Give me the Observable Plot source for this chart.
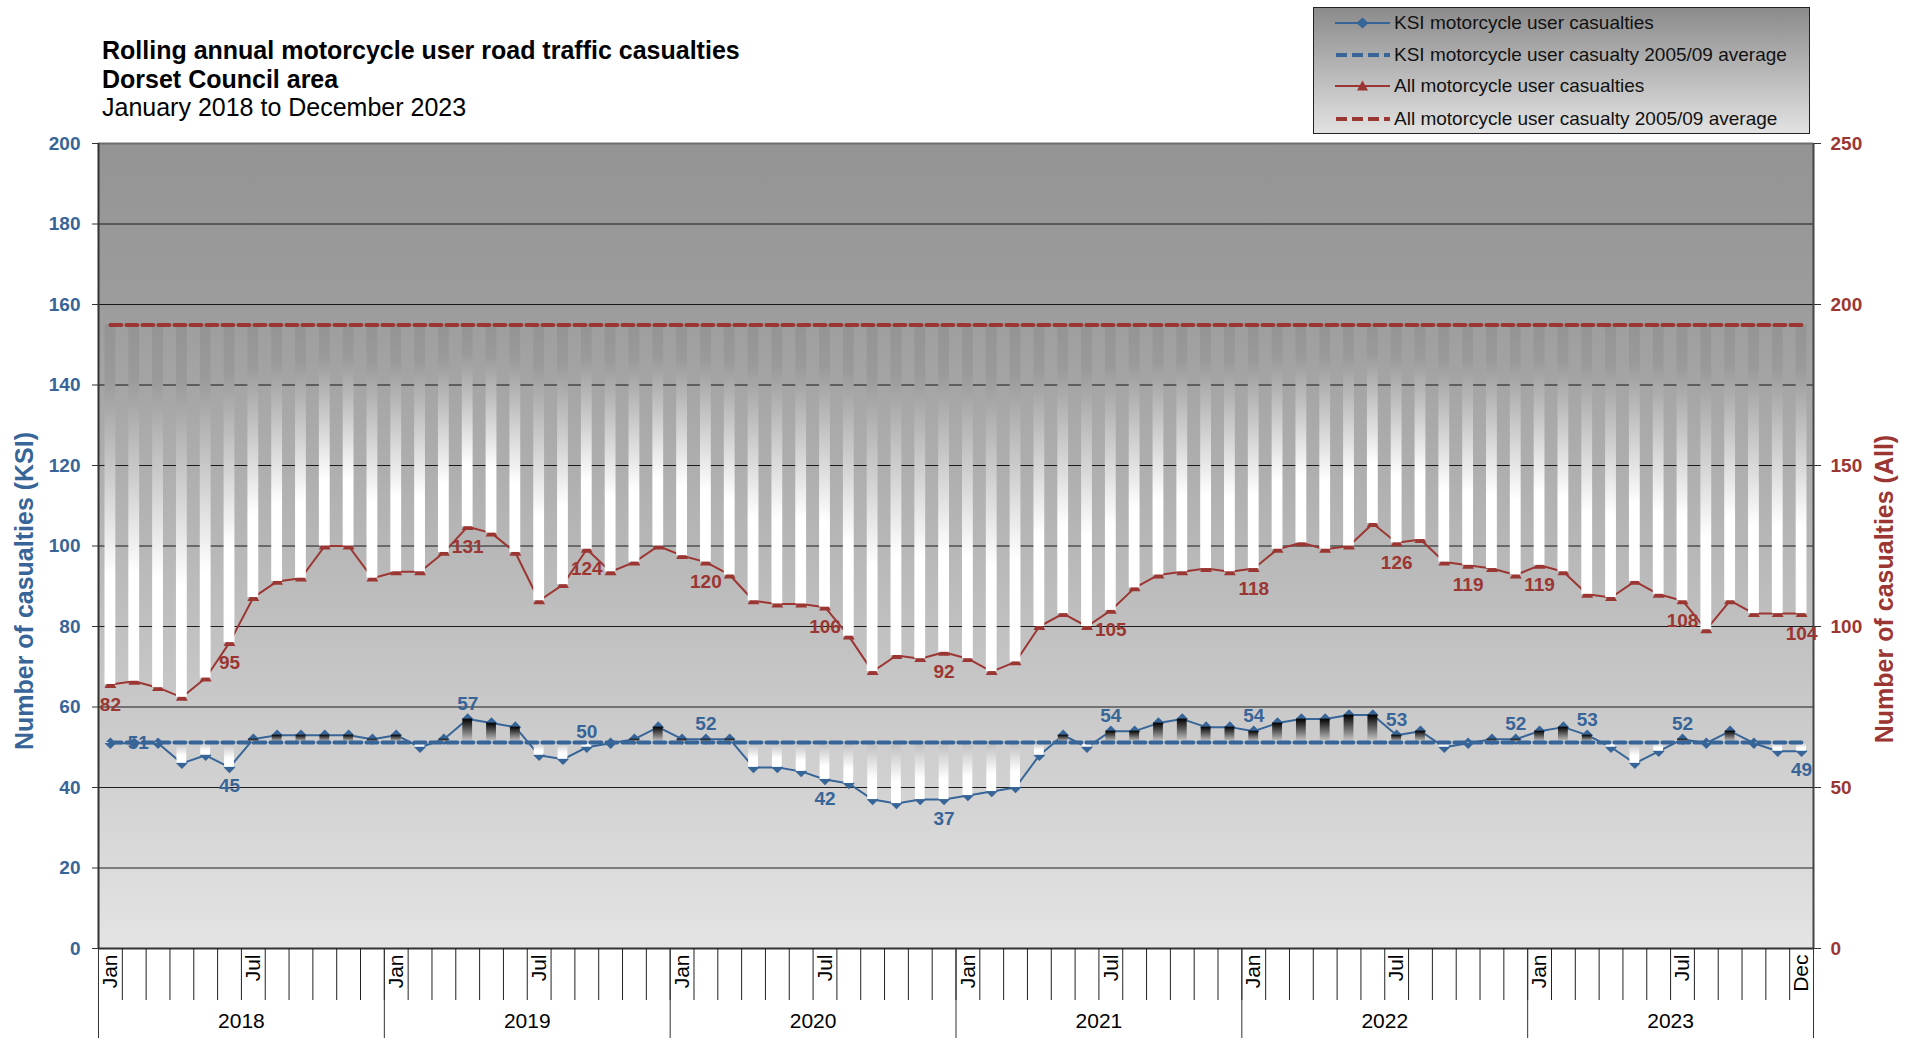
<!DOCTYPE html>
<html><head><meta charset="utf-8">
<script src="https://cdn.jsdelivr.net/npm/d3@7"></script>
<script src="https://cdn.jsdelivr.net/npm/@observablehq/plot@0.6"></script>
<style>
body{margin:0;background:#fff;font-family:"Liberation Sans",Arial,sans-serif;}
#wrap{position:relative;width:1912px;height:1038px;overflow:hidden;}
#chart{position:absolute;left:0;top:0;}
#title{position:absolute;left:102px;top:36px;font-size:25px;line-height:28.7px;color:#000;white-space:nowrap;}
#title .b{font-weight:bold}
#legend{position:absolute;left:1313px;top:7px;width:495px;height:125px;border:1px solid #222;background:linear-gradient(#8b8b8b,#e2e2e2);}
.item{position:absolute;left:0;height:24px;display:flex;align-items:center;font-size:19px;color:#111;white-space:nowrap}
.item svg{margin-left:21px;margin-right:3px}
</style></head>
<body><div id="wrap"><div id="chart"></div>
<div id="title"><div class="b">Rolling annual motorcycle user road traffic casualties</div><div class="b">Dorset Council area</div><div>January 2018 to December 2023</div></div>
<div id="legend"></div></div>
<script>
const yearList = [2018, 2019, 2020, 2021, 2022, 2023];
const monthNames = ["Jan","Feb","Mar","Apr","May","Jun","Jul","Aug","Sep","Oct","Nov","Dec"];
const ksiCasualties = [
  51, 51, 51, 46, 48, 45, 52, 53, 53, 53, 53, 52,
  53, 50, 52, 57, 56, 55, 48, 47, 50, 51, 52, 55,
  52, 52, 52, 45, 45, 44, 42, 41, 37, 36, 37, 37,
  38, 39, 40, 48, 53, 50, 54, 54, 56, 57, 55, 55,
  54, 56, 57, 57, 58, 58, 53, 54, 50, 51, 52, 52,
  54, 55, 53, 50, 46, 49, 52, 51, 54, 51, 49, 49
];
const allCasualties = [
  82, 83, 81, 78, 84, 95, 109, 114, 115, 125, 125, 115,
  117, 117, 123, 131, 129, 123, 108, 113, 124, 117, 120, 125,
  122, 120, 116, 108, 107, 107, 106, 97, 86, 91, 90, 92,
  90, 86, 89, 100, 104, 100, 105, 112, 116, 117, 118, 117,
  118, 124, 126, 124, 125, 132, 126, 127, 120, 119, 118, 116,
  119, 117, 110, 109, 114, 110, 108, 99, 108, 104, 104, 104
];
const ksiAverage = 51.2;
const allAverage = 193.6;
const leftTicks = [0, 20, 40, 60, 80, 100, 120, 140, 160, 180, 200];
const rightTicks = [0, 50, 100, 150, 200, 250];
const allLabelMonths = [0, 5, 15, 20, 25, 30, 35, 42, 48, 54, 57, 60, 66, 71];
const ksiLabelMonths = [1, 5, 15, 20, 25, 30, 35, 42, 48, 54, 59, 62, 66, 71];
const legendLabels = ["KSI motorcycle user casualties", "KSI motorcycle user casualty 2005/09 average",
  "All motorcycle user casualties", "All motorcycle user casualty 2005/09 average"];
const axisTitles = ["Number of casualties (KSI)", "Number of casualties (All)"];

const blue = "#386598";
const red = "#9b3633";
const k = 200 / 250; // right axis -> left axis units

const rows = ksiCasualties.map((v, i) => ({
  i, x: i + 0.5, ksi: v, all: allCasualties[i], allY: allCasualties[i] * k,
  month: monthNames[i % 12], year: yearList[Math.floor(i / 12)]
}));
const ksiUp = rows.filter(d => d.ksi > ksiAverage);
const ksiDown = rows.filter(d => d.ksi < ksiAverage);
const allLab = rows.filter(d => allLabelMonths.includes(d.i));
const ksiLab = rows.filter(d => ksiLabelMonths.includes(d.i));
const ksiLabAbove = ksiLab.filter(d => d.ksi >= ksiAverage + 0.5 || (d.ksi < ksiAverage - 0.5 && d.ksi >= ksiAverage - 1.5));
const ksiLabBelow = ksiLab.filter(d => d.ksi < ksiAverage - 1.5);
const ksiLabOn = ksiLab.filter(d => Math.abs(d.ksi - ksiAverage) < 0.5);
const monthTicks = rows.filter(d => d.month === "Jan" || d.month === "Jul" || d.i === rows.length - 1).map(d => d.x);
const yearCenters = yearList.map((y, j) => j * 12 + 6);

const chart = Plot.plot({
  width: 1912, height: 1038,
  marginLeft: 98, marginRight: 99, marginTop: 143, marginBottom: 90,
  style: {fontFamily: "Liberation Sans, Arial, sans-serif", background: "transparent", overflow: "visible"},
  x: {type: "linear", domain: [0, rows.length], axis: null},
  y: {domain: [0, 200], axis: null},
  marks: [
    Plot.frame({fill: "url(#bgGrad)", stroke: "none"}),
    Plot.ruleY(leftTicks.filter(v => v > 0 && v < 200), {stroke: "#000", strokeWidth: 1.2, strokeOpacity: 0.85}),
    Plot.ruleY([200], {stroke: "#6e6e6e", strokeWidth: 2}),
    Plot.line(rows, {x: "x", y: "allY", stroke: red, strokeWidth: 2}),
    Plot.dot(rows, {x: "x", y: "allY", symbol: "triangle", r: 4.4, fill: red, stroke: "none"}),
    Plot.line(rows, {x: "x", y: "ksi", stroke: blue, strokeWidth: 2}),
    Plot.dot(rows, {x: "x", y: "ksi", symbol: "diamond2", r: 5.2, fill: blue, stroke: "none"}),
    Plot.rect(rows, {x1: "i", x2: d => d.i + 1, y1: "allY", y2: () => allAverage * k, insetLeft: 6.5, insetRight: 6.5, fill: "url(#allBar)"}),
    Plot.rect(ksiUp, {x1: "i", x2: d => d.i + 1, y1: () => ksiAverage, y2: "ksi", insetLeft: 7, insetRight: 7, fill: "url(#ksiUp)"}),
    Plot.rect(ksiDown, {x1: "i", x2: d => d.i + 1, y1: () => ksiAverage, y2: "ksi", insetLeft: 7, insetRight: 7, fill: "url(#ksiDown)"}),
    Plot.line(rows, {x: "x", y: () => allAverage * k, stroke: red, strokeWidth: 4, strokeDasharray: "11,5"}),
    Plot.line(rows, {x: "x", y: () => ksiAverage, stroke: blue, strokeWidth: 4, strokeDasharray: "11,5"}),
    Plot.ruleX([0], {stroke: "#333", strokeWidth: 2}),
    Plot.ruleX([rows.length], {stroke: "#444", strokeWidth: 2}),
    Plot.ruleY([0], {stroke: "#333", strokeWidth: 2}),
    Plot.text(allLab, {x: "x", y: "allY", text: d => String(d.all), dy: 20, fill: red, fontSize: 19, fontWeight: "bold"}),
    Plot.text(ksiLabAbove, {x: "x", y: "ksi", text: d => String(d.ksi), dy: -15, fill: blue, fontSize: 19, fontWeight: "bold"}),
    Plot.text(ksiLabBelow, {x: "x", y: "ksi", text: d => String(d.ksi), dy: 19, fill: blue, fontSize: 19, fontWeight: "bold"}),
    Plot.text(ksiLabOn, {x: "x", y: "ksi", text: d => String(d.ksi), dx: 4, fill: blue, fontSize: 19, fontWeight: "bold"}),
    Plot.axisY(leftTicks, {anchor: "left", tickSize: 6, tickPadding: 12, fill: blue, stroke: "#333", fontSize: 19, fontWeight: "bold", label: null}),
    Plot.axisY(rightTicks.map(v => v * k), {anchor: "right", tickSize: 7, tickPadding: 10, tickFormat: d => String(Math.round(d / k)), fill: red, stroke: "#333", fontSize: 19, fontWeight: "bold", label: null}),
    Plot.axisX(d3.range(0, rows.length + 1), {anchor: "bottom", tickSize: 52, fill: "none", stroke: "#222", label: null}),
    Plot.axisX(d3.range(0, rows.length + 1, 12), {anchor: "bottom", tickSize: 91, fill: "none", stroke: "#333", label: null}),
    Plot.axisX(monthTicks, {anchor: "bottom", tickSize: 0, tickPadding: 6, tickRotate: -90, tickFormat: x => monthNames[Math.floor(x) % 12], fill: "#000", fontSize: 21, label: null}),
    Plot.axisX(yearCenters, {anchor: "bottom", tickSize: 0, tickPadding: 65, tickFormat: x => String(yearList[Math.floor(x / 12)]), fill: "#000", fontSize: 21, label: null}),
    Plot.text([axisTitles[0]], {frameAnchor: "left", textAnchor: "middle", text: d => d, rotate: -90, dx: -74, dy: 45, fill: blue, fontSize: 25, fontWeight: "bold"}),
    Plot.text([axisTitles[1]], {frameAnchor: "right", textAnchor: "middle", text: d => d, rotate: -90, dx: 71, dy: 43, fill: red, fontSize: 25, fontWeight: "bold"})
  ]
});

const svg = chart.tagName.toLowerCase() === "svg" ? chart : chart.querySelector("svg");
const ns = "http://www.w3.org/2000/svg";
const defs = document.createElementNS(ns, "defs");
defs.innerHTML = `
<linearGradient id="bgGrad" x1="0" y1="0" x2="0" y2="1">
  <stop offset="0" stop-color="#949494"/><stop offset="0.2" stop-color="#9c9c9c"/><stop offset="1" stop-color="#e4e4e4"/>
</linearGradient>
<linearGradient id="allBar" x1="0" y1="0" x2="0" y2="1">
  <stop offset="0" stop-color="#949494"/><stop offset="0.15" stop-color="#9a9a9a"/><stop offset="0.7" stop-color="#ffffff"/><stop offset="1" stop-color="#ffffff"/>
</linearGradient>
<linearGradient id="ksiUp" x1="0" y1="0" x2="0" y2="1">
  <stop offset="0" stop-color="#000000"/><stop offset="1" stop-color="#cfcfcf"/>
</linearGradient>
<linearGradient id="ksiDown" x1="0" y1="0" x2="0" y2="1">
  <stop offset="0" stop-color="#bcbcbc"/><stop offset="0.65" stop-color="#ffffff"/><stop offset="1" stop-color="#ffffff"/>
</linearGradient>`;
svg.insertBefore(defs, svg.firstChild);
document.getElementById("chart").appendChild(chart);

// legend
const legend = document.getElementById("legend");
const legendStyles = [
  {color: blue, dash: null, symbol: "diamond"},
  {color: blue, dash: "11,5", symbol: null},
  {color: red, dash: null, symbol: "triangle"},
  {color: red, dash: "11,5", symbol: null}
];
const rowTops = [3, 35, 66, 99];
legendLabels.forEach((label, j) => {
  const st = legendStyles[j];
  const item = document.createElement("div");
  item.className = "item";
  item.style.top = rowTops[j] + "px";
  let sym = "";
  if (st.symbol === "diamond") sym = `<path d="M27.5,6.5 L33.5,12 L27.5,17.5 L21.5,12 Z" fill="${st.color}"/>`;
  if (st.symbol === "triangle") sym = `<path d="M27.5,6.5 L33,16.5 L22,16.5 Z" fill="${st.color}"/>`;
  const line = st.dash
    ? `<line x1="1" y1="12" x2="55" y2="12" stroke="${st.color}" stroke-width="4" stroke-dasharray="${st.dash}"/>`
    : `<line x1="0" y1="12" x2="55" y2="12" stroke="${st.color}" stroke-width="2"/>`;
  item.innerHTML = `<svg width="56" height="24">${line}${sym}</svg><span>${label}</span>`;
  legend.appendChild(item);
});
</script>
</body></html>
